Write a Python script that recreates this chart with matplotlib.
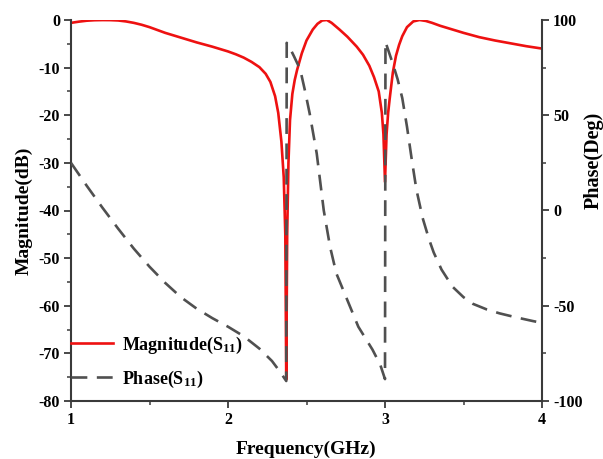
import matplotlib
matplotlib.use("Agg")
import matplotlib.pyplot as plt
from matplotlib.ticker import MultipleLocator

plt.rcParams['font.family'] = ['Liberation Serif', 'DejaVu Serif']
plt.rcParams['font.weight'] = 'bold'
plt.rcParams['mathtext.fontset'] = 'custom'
plt.rcParams['mathtext.rm'] = 'Liberation Serif:bold'
plt.rcParams['mathtext.bf'] = 'Liberation Serif:bold'
plt.rcParams['mathtext.it'] = 'Liberation Serif:bold'
plt.rcParams['axes.unicode_minus'] = False

# ---- data ----
mag_freq = [1.00, 1.05, 1.10, 1.15, 1.20, 1.25, 1.30, 1.35, 1.40, 1.45, 1.50,
            1.60, 1.70, 1.80, 1.90, 2.00, 2.05, 2.10, 2.15, 2.20, 2.24, 2.27,
            2.30, 2.32, 2.34, 2.355, 2.365, 2.371,
            2.377, 2.385, 2.395, 2.41, 2.425, 2.44, 2.47, 2.50, 2.54, 2.57,
            2.60, 2.63, 2.66, 2.71, 2.76, 2.82, 2.86, 2.90, 2.93, 2.96, 2.98,
            2.99, 3.00, 3.01, 3.02, 3.03, 3.05, 3.07, 3.09, 3.11, 3.14, 3.18,
            3.22, 3.26, 3.30, 3.35, 3.40, 3.50, 3.60, 3.70, 3.80, 3.90, 4.00]
mag_db = [-0.6, -0.35, -0.15, -0.05, -0.02, -0.03, -0.1, -0.3, -0.6, -1.0,
          -1.5, -2.7, -3.7, -4.7, -5.6, -6.6, -7.2, -7.9, -8.8, -9.9, -11.3,
          -13.0, -16.0, -19.5, -25.5, -33.0, -45.0, -75.5,
          -45.0, -30.0, -21.0, -15.5, -12.6, -10.5, -7.0, -4.3, -2.0, -0.8,
          -0.1, 0.0, -0.6, -2.0, -3.5, -5.6, -7.3, -9.6, -12.0, -15.0, -19.5,
          -24.0, -34.0, -24.0, -19.5, -16.5, -11.0, -7.5, -5.2, -3.4, -1.5,
          -0.3, 0.0, -0.2, -0.6, -1.2, -1.7, -2.7, -3.6, -4.3, -4.9, -5.5, -6.0]

phase_freq = [1.00, 1.10, 1.20, 1.30, 1.40, 1.50, 1.60, 1.70, 1.80, 1.90, 2.00,
              2.10, 2.20, 2.28, 2.33, 2.371, 2.374, 2.39, 2.42, 2.46, 2.49,
              2.52, 2.565, 2.61, 2.65, 2.69, 2.76, 2.83, 2.92, 2.97, 3.00,
              3.003, 3.05, 3.08, 3.11, 3.14, 3.17, 3.20, 3.24, 3.28, 3.31,
              3.36, 3.43, 3.50, 3.56, 3.65, 3.73, 3.83, 3.94, 4.00]
phase_deg = [25, 13, 1.5, -9.5, -20, -29.5, -38, -45.5, -51.5, -56.5, -61,
             -66, -72.5, -79, -84.5, -89.5, 88, 86, 81, 74, 63,
             51, 30, 0, -19, -33, -47, -61, -73, -81, -88.5,
             88.5, 77, 69, 59, 44, 27, 11, -4, -15, -22,
             -31, -40, -45.5, -49, -52, -54, -56, -58, -59]

mag_label = r'Magnitude(S$_{11}$)'
phase_label = r'Phase(S$_{11}$)'

# ---- figure ----
fig = plt.figure(figsize=(6.03, 4.59), dpi=100)
ax = fig.add_axes([71/603, 58/459, 471/603, 381/459])
ax2 = ax.twinx()

l1, = ax.plot(mag_freq, mag_db, color='#ee1111', lw=1.9, label=mag_label)
l2, = ax2.plot(phase_freq, phase_deg, color='#505050', lw=1.9,
               dashes=(6, 3.6), label=phase_label)

ax.set_xlim(1, 4)
ax.set_ylim(-80, 0)
ax2.set_ylim(-100, 100)

ax.xaxis.set_major_locator(MultipleLocator(1))
ax.xaxis.set_minor_locator(MultipleLocator(0.5))
ax.yaxis.set_major_locator(MultipleLocator(10))
ax.yaxis.set_minor_locator(MultipleLocator(5))
ax2.yaxis.set_major_locator(MultipleLocator(50))
ax2.yaxis.set_minor_locator(MultipleLocator(25))

spine_c = '#3a3a3a'
for a in (ax, ax2):
    for s in a.spines.values():
        s.set_linewidth(1.5)
        s.set_color(spine_c)
    a.spines['top'].set_visible(False)
ax.spines['right'].set_visible(False)
ax2.spines['left'].set_visible(False)
ax2.spines['bottom'].set_visible(False)

for a in (ax, ax2):
    a.tick_params(which='major', direction='out', length=5, width=1.3,
                  color=spine_c, labelsize=11.5, pad=3)
    a.tick_params(which='minor', direction='out', length=3, width=1.1,
                  color=spine_c)

for lab in ax.get_xticklabels() + ax.get_yticklabels() + ax2.get_yticklabels():
    lab.set_fontweight('bold')

fig.text(15/603, 1 - 211/459, 'Magnitude(dB)', rotation=90, ha='left',
         va='center', fontsize=14, fontweight='bold')
fig.text(584/603, 1 - 160/459, 'Phase(Deg)', rotation=90, ha='left',
         va='center', fontsize=14.5, fontweight='bold')
fig.text(306/603, 1 - 449/459, 'Frequency(GHz)', ha='center',
         va='center', fontsize=14, fontweight='bold')

leg = ax2.legend(handles=[l1, l2], loc='lower left',
                 bbox_to_anchor=(0.0, 0.03), frameon=False, fontsize=13,
                 handlelength=2.3, handletextpad=0.5, borderaxespad=0,
                 borderpad=0, labelspacing=0.7)
for t in leg.get_texts():
    t.set_fontweight('bold')

fig.savefig('out.png', dpi=100)
